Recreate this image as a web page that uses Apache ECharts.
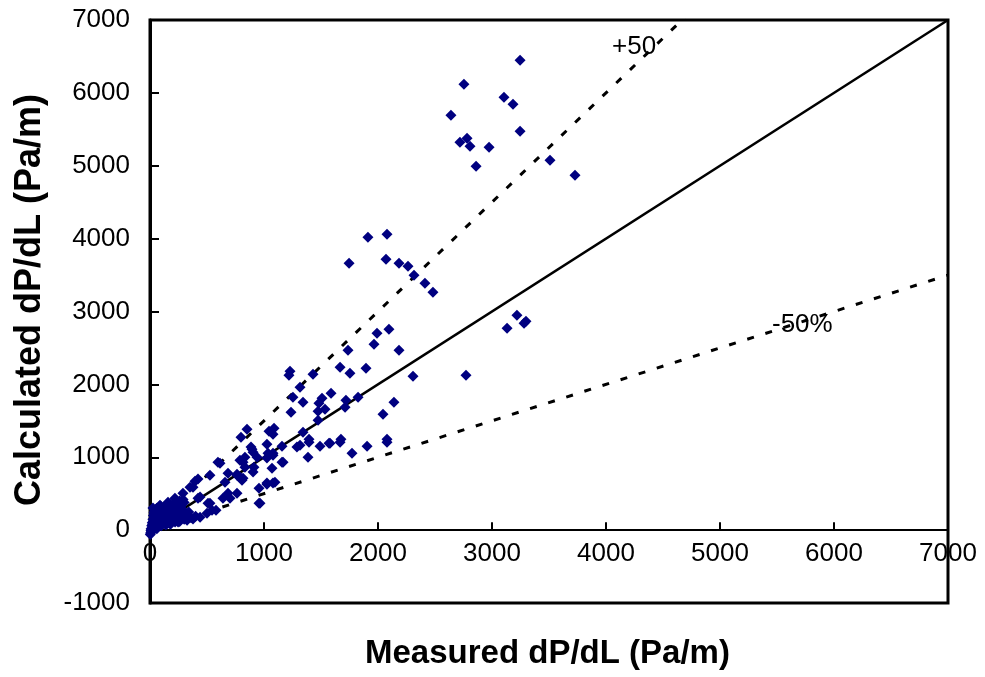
<!DOCTYPE html>
<html>
<head>
<meta charset="utf-8">
<script src="https://cdn.jsdelivr.net/npm/echarts@6/dist/echarts.min.js"></script>
<style>
  html, body { margin: 0; padding: 0; background: #fff; }
  #chart { width: 985px; height: 677px; }
</style>
</head>
<body>
<div id="chart"></div>
<script>
// measured vs calculated dP/dL
var highPts = [
  [3246,6447],[2754,6118],[3105,5940],[3184,5844],[2640,5693],[2719,5322],[2781,5377],
  [2807,5267],[2974,5254],[2860,4993],[3246,5473],[3509,5075],[3728,4870],
  [2079,4060],[1912,4019],[1746,3663],[2070,3717],[2184,3663],[2263,3621],[2316,3498],
  [2412,3388],[2482,3265],[3219,2949],[3281,2840],[3132,2771],[3298,2867],[2772,2126]
];
var midPts = [
  [1991,2702],[2096,2757],[1965,2551],[2184,2469],[1737,2469],[1667,2236],[1895,2222],
  [1754,2154],[1228,2181],[1219,2126],[1430,2140],[2307,2112],
  [1316,1962],[1588,1879],[1254,1824],[1342,1756],[1482,1742],[1509,1811],[1719,1783],
  [1825,1824],[1535,1660],[1711,1687],[1474,1632],[1237,1619],[2140,1756],[2044,1591],
  [1474,1509],[851,1385],[798,1276],[1044,1358],[1088,1399],[1079,1317],[1342,1344],
  [1395,1248],[1395,1207],[1675,1248],[1570,1193],[1491,1152],[1316,1166],[1289,1139],
  [1158,1152],[1026,1180],[2079,1248],[1904,1152],[1772,1056],[1386,1001],[886,1139],
  [904,1070],[833,1001],[816,933],[939,1001],[1026,988],[1035,1056],[1079,1056],
  [1158,933],[1070,850],[904,796],[763,768],[833,864],[895,1111],[1079,1029],[912,864],
  [1579,1193],[1667,1207],[2079,1207]
];
var lowPts = [
  [1096,658],[1026,631],[956,576],[956,370],[526,370],[579,274],[640,439],[702,439],
  [421,439],[421,700],[526,754],[596,933],[614,919],[789,727],[807,686],[684,782],
  [684,507],[658,658],[377,590],[439,453],[1167,933],[789,960],[763,754],[816,713],
  [965,370],[1026,645],[1079,645],[509,370],[544,274],[500,233],[439,178],[377,151],
  [325,137],[246,110],[763,507],[289,507],[351,590],[219,439],[158,384],[88,343],
  [26,302],[395,672]
];
var nearZero = [
  [5,-40],[10,20],[15,60],[20,100],[25,150],[30,200],[35,240],[40,260],[12,-20],[18,30],
  [22,80],[28,120],[45,180],[50,220],[55,260],[60,300],[70,250],[80,200],[90,280],[100,320],
  [110,250],[120,200],[130,300],[140,340],[150,260],[160,220],[170,300],[180,350],[190,280],
  [200,240],[210,330],[220,380],[230,300],[240,260],[250,360],[260,400],[270,330],[280,290],
  [290,420],[300,380],[40,60],[60,100],[80,120],[100,150],[120,130],[140,160],[160,140],
  [180,170],[200,150],[220,180],[240,160],[260,190],[280,170],[300,200],[320,220],[340,250],
  [30,10],[50,40],[70,50],[90,80],[110,90],[130,100],[150,110],[170,95],[190,120],[210,130],
  [230,140],[250,150],[75,170],[95,210],[115,230],[135,240],[155,180],[175,210],[195,230],
  [85,330],[65,200],[35,120],[25,40],[8,0],[3,-60],[15,-10],[45,90],[65,140],[105,190],
  [125,270],[145,210],[165,260],[185,240],[205,280],[60,20],[100,60],[140,70],[180,80],
  [220,110],[260,120],[300,150],[330,160],[360,170],[400,190]
];
var measured = highPts.concat(midPts, lowPts, nearZero);

var xTicks = [0, 7000, 1000];     // min, max, step
var yTicks = [-1000, 7000, 1000];

// reference lines: 1:1, +50 %, -50 %
var lineEqual = [[0, 0], [7000, 7000]];
var linePlus = [[0, 0], [7000, 10500]];
var lineMinus = [[0, 0], [7000, 3500]];

var font = '"Liberation Sans", Arial, sans-serif';
var myChart = echarts.init(document.getElementById('chart'));

// x axis sits on y = 0 : shift it up from the grid bottom
var plotH = 677 - 20 - 74;
var zeroShift = -plotH * (0 - yTicks[0]) / (yTicks[1] - yTicks[0]);

var option = {
  animation: false,
  grid: {
    left: 150, right: 37, top: 20, bottom: 74,
    show: true, borderColor: '#000', borderWidth: 3,
    containLabel: false
  },
  xAxis: {
    type: 'value',
    min: xTicks[0], max: xTicks[1], interval: xTicks[2],
    offset: zeroShift,
    axisLine: { onZero: false, lineStyle: { color: '#000', width: 2 } },
    axisTick: { inside: true, length: 8, lineStyle: { color: '#000', width: 2 } },
    axisLabel: { color: '#000', fontSize: 26, fontFamily: font, margin: 11,
                 showMinLabel: true, showMaxLabel: true,
                 formatter: function (v) { return String(v); } },
    splitLine: { show: false }
  },
  yAxis: {
    type: 'value',
    min: yTicks[0], max: yTicks[1], interval: yTicks[2],
    axisLine: { onZero: false, lineStyle: { color: '#000', width: 3 } },
    axisTick: { inside: true, length: 9, lineStyle: { color: '#000', width: 2 } },
    axisLabel: { color: '#000', fontSize: 26, fontFamily: font, margin: 20,
                 showMinLabel: true, showMaxLabel: true,
                 formatter: function (v) { return String(v); } },
    splitLine: { show: false }
  },
  series: [
    {
      type: 'line', data: lineEqual, symbol: 'none', silent: true,
      lineStyle: { color: '#000', width: 2.5 }
    },
    {
      type: 'line', data: linePlus, symbol: 'none', silent: true, clip: true,
      lineStyle: { color: '#000', width: 3, type: [7, 12] }
    },
    {
      type: 'line', data: lineMinus, symbol: 'none', silent: true,
      lineStyle: { color: '#000', width: 3, type: [7, 12] }
    },
    {
      type: 'scatter', data: measured, symbol: 'diamond', symbolSize: 11,
      itemStyle: { color: '#000080', opacity: 1 }, z: 5
    }
  ],
  graphic: [
    { type: 'text', left: 365, top: 637,
      style: { text: 'Measured dP/dL (Pa/m)', fill: '#000',
               font: 'bold 33px ' + font } },
    { type: 'text', x: 12, y: 506, rotation: Math.PI / 2,
      style: { text: 'Calculated dP/dL (Pa/m)', fill: '#000',
               font: 'bold 36px ' + font } },
    { type: 'text', x: 612, y: 34,
      style: { text: '+50', fill: '#000', font: '26px ' + font } },
    { type: 'text', x: 772, y: 312,
      style: { text: '-50%', fill: '#000', font: '26px ' + font } }
  ]
};
myChart.setOption(option);
</script>
</body>
</html>
